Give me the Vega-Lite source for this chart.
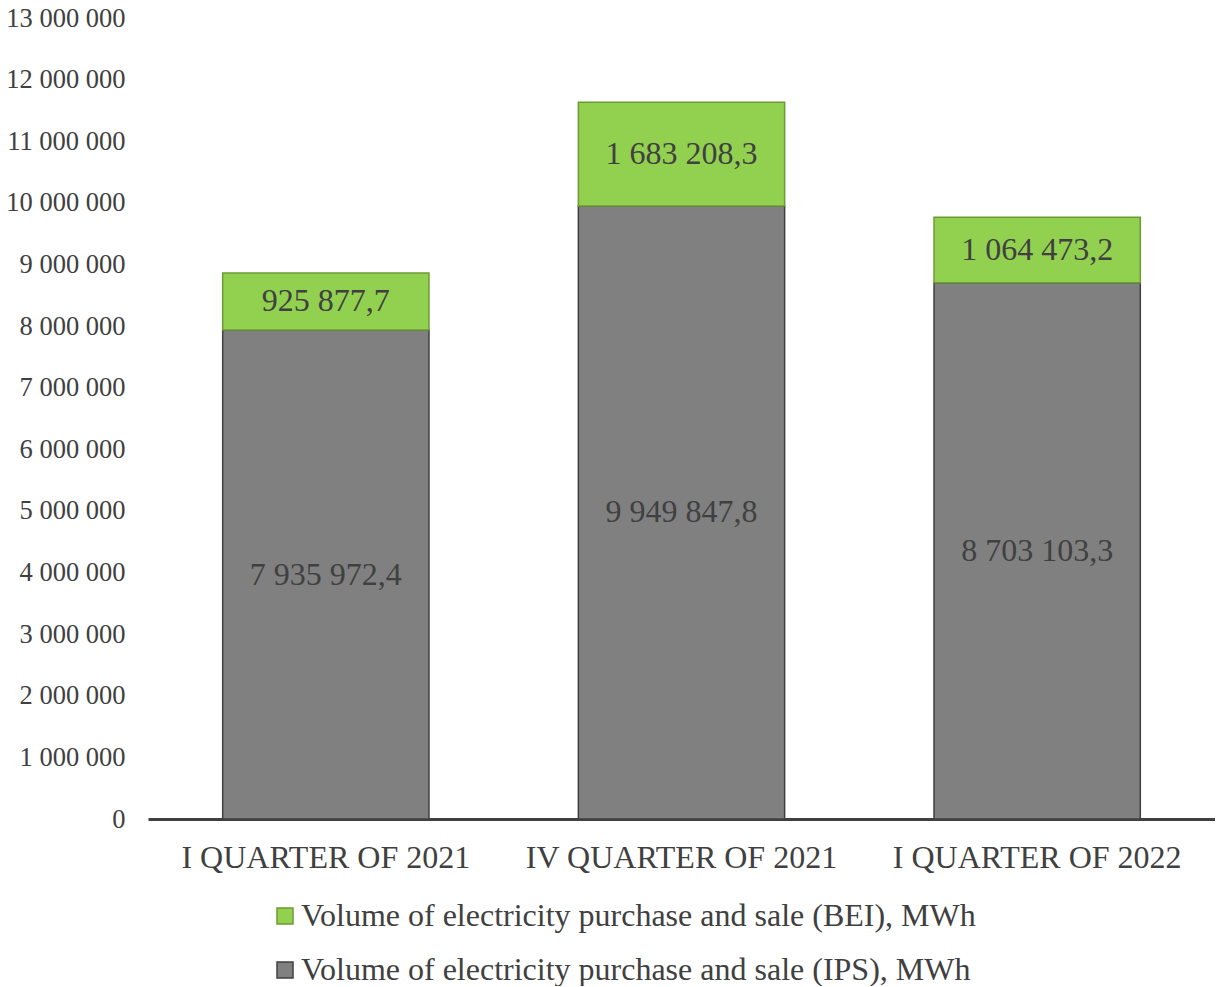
{
  "$schema": "https://vega.github.io/schema/vega-lite/v6.json",
  "width": 1067,
  "height": 801,
  "padding": {"left": 5, "top": 5, "right": 0, "bottom": 0},
  "config": {
    "locale": {"number": {"decimal": ",", "thousands": " ", "grouping": [3], "currency": ["", ""]}},
    "view": {"stroke": null},
    "font": "Liberation Serif"
  },
  "data": {
    "values": [
      {"quarter": "I QUARTER OF 2021", "series": "Volume of electricity purchase and sale (IPS), MWh", "value": 7935972.4},
      {"quarter": "I QUARTER OF 2021", "series": "Volume of electricity purchase and sale (BEI), MWh", "value": 925877.7},
      {"quarter": "IV QUARTER OF 2021", "series": "Volume of electricity purchase and sale (IPS), MWh", "value": 9949847.8},
      {"quarter": "IV QUARTER OF 2021", "series": "Volume of electricity purchase and sale (BEI), MWh", "value": 1683208.3},
      {"quarter": "I QUARTER OF 2022", "series": "Volume of electricity purchase and sale (IPS), MWh", "value": 8703103.3},
      {"quarter": "I QUARTER OF 2022", "series": "Volume of electricity purchase and sale (BEI), MWh", "value": 1064473.2}
    ]
  },
  "encoding": {
    "x": {
      "field": "quarter", "type": "nominal", "sort": null,
      "scale": {"paddingInner": 0.42, "paddingOuter": 0.21},
      "axis": {"title": null, "labelAngle": 0, "domainColor": "#404040", "domainWidth": 3, "ticks": false, "labelFontSize": 32, "labelColor": "#404040", "labelPadding": 23, "labelLimit": 1000}
    }
  },
  "layer": [
    {
      "mark": {"type": "bar", "strokeWidth": 1.5},
      "encoding": {
        "y": {
          "field": "value", "type": "quantitative", "stack": "zero",
          "scale": {"domain": [0, 13000000], "nice": false},
          "axis": {"title": null, "format": ",d", "domain": false, "ticks": false, "grid": false, "labelFontSize": 26.5, "labelColor": "#404040", "labelPadding": 23,
                   "values": [0, 1000000, 2000000, 3000000, 4000000, 5000000, 6000000, 7000000, 8000000, 9000000, 10000000, 11000000, 12000000, 13000000]}
        },
        "color": {
          "field": "series", "type": "nominal",
          "scale": {"range": ["#92D050", "#808080"]},
          "legend": {"title": null, "orient": "none", "legendX": 121, "legendY": 882, "direction": "vertical", "labelFontSize": 32, "labelColor": "#404040", "labelOffset": 0, "symbolType": "square", "symbolSize": 256, "symbolStrokeWidth": 1.5, "rowPadding": 22, "labelLimit": 1200}
        },
        "stroke": {
          "field": "series", "type": "nominal",
          "scale": {"range": ["#6E9A35", "#404040"]},
          "legend": {"title": null, "orient": "none", "legendX": 121, "legendY": 882, "direction": "vertical", "labelFontSize": 32, "labelColor": "#404040", "labelOffset": 0, "symbolType": "square", "symbolSize": 256, "symbolStrokeWidth": 1.5, "rowPadding": 22, "labelLimit": 1200}
        },
        "order": {"field": "series", "sort": "descending"}
      }
    },
    {
      "transform": [
        {"stack": "value", "groupby": ["quarter"], "as": ["v0", "v1"], "sort": [{"field": "series", "order": "descending"}]},
        {"fold": ["v0", "v1"], "as": ["end", "pos"]}
      ],
      "mark": {"type": "text", "fontSize": 32, "color": "#404040", "baseline": "middle"},
      "encoding": {
        "y": {"field": "pos", "aggregate": "sum", "type": "quantitative", "stack": null, "scale": {"domain": [0, 26000000], "nice": false}, "axis": null},
        "text": {"field": "value", "aggregate": "min", "type": "quantitative", "format": ",.1f"},
        "detail": {"field": "series"}
      }
    }
  ],
  "resolve": {"scale": {"y": "independent"}}
}
